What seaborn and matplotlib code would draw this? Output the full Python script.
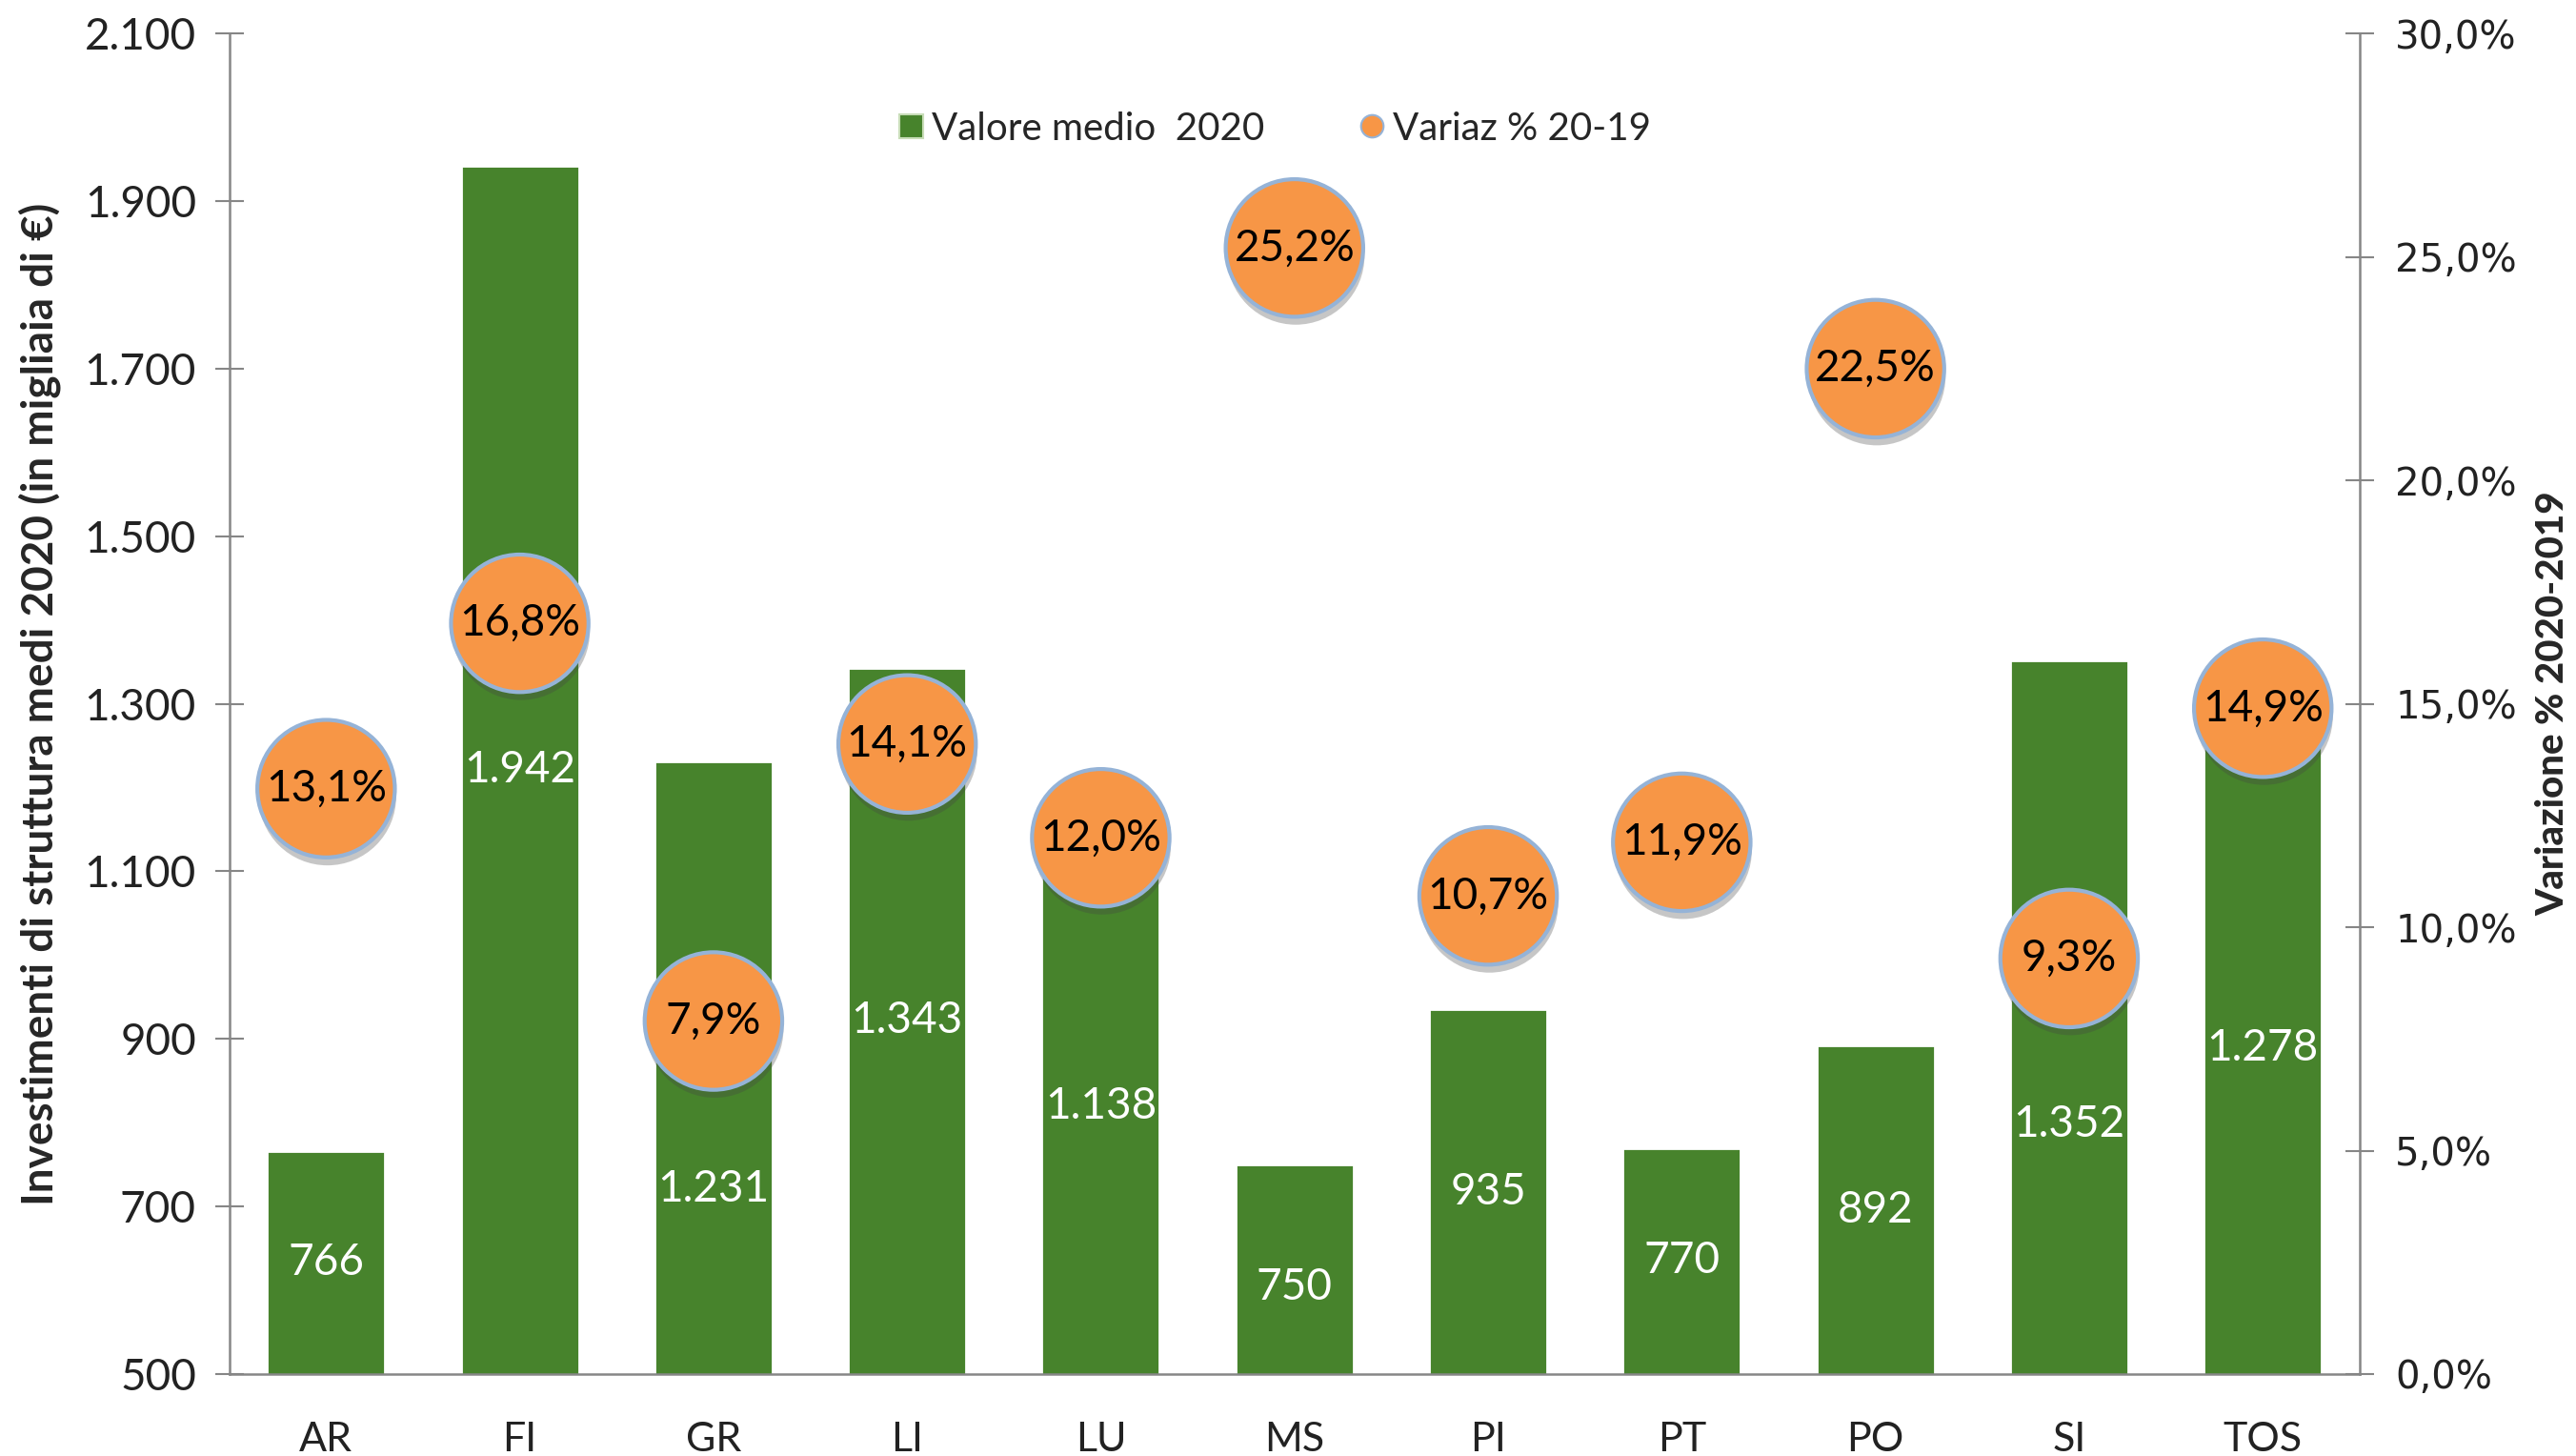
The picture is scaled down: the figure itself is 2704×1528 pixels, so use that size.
"""
Investimenti di struttura medi 2020 per provincia - barre + variazione %
"""

import matplotlib
matplotlib.use("Agg")
import matplotlib.pyplot as plt
import matplotlib.patheffects as pe
from matplotlib.ticker import FuncFormatter, FixedLocator, NullLocator
import seaborn as sns
import pandas as pd

# Data
province = ["AR", "FI", "GR", "LI", "LU", "MS", "PI", "PT", "PO", "SI", "TOS"]
valore_medio_2020 = [766, 1942, 1231, 1343, 1138, 750, 935, 770, 892, 1352, 1278]
variaz_20_19 = [13.1, 16.8, 7.9, 14.1, 12.0, 25.2, 10.7, 11.9, 22.5, 9.3, 14.9]

# labels moved down by hand where a circle sits on top of them (in data units)
label_shift = {"GR": -145, "SI": -128, "MS": -22}

GREEN = "#47832C"
ORANGE = "#F79646"
EDGE_BLUE = "#95B3D7"
AXIS_GREY = "#868686"

sns.set_theme(style="white")
plt.rcParams["font.family"] = ["Lato", "DejaVu Sans"]

df = pd.DataFrame({"prov": province, "valore": valore_medio_2020, "var": variaz_20_19})


def it_thousands(v, _pos=None):
    return f"{int(round(v)):,}".replace(",", ".")


def it_pct(v, _pos=None):
    return f"{v:.1f}%".replace(".", ",")


fig = plt.figure(figsize=(27.04, 15.28), dpi=100)
ax = fig.add_axes([0.089, 0.0563, 0.827, 0.9207])

sns.barplot(data=df, x="prov", y="valore", color=GREEN, saturation=1,
            width=0.61, edgecolor="white", linewidth=2, ax=ax)
ax.set_ylim(500, 2100)
ax.set_xlim(-0.5, len(province) - 0.5)

# value labels in bar centres
for patch, prov, val in zip(ax.patches, province, valore_medio_2020):
    cx = patch.get_x() + patch.get_width() / 2
    ax.text(cx, (500 + val) / 2 + label_shift.get(prov, 0), it_thousands(val),
            ha="center", va="center", color="white", fontsize=33, zorder=5)

ax2 = ax.twinx()
ax2.set_ylim(0, 30)
sns.scatterplot(data=df, x="prov", y="var", s=10800, color=ORANGE,
                edgecolor=EDGE_BLUE, linewidth=3, ax=ax2, zorder=4,
                legend=False)
for coll in ax2.collections:
    coll.set_path_effects([pe.SimplePatchShadow(offset=(1, -6), alpha=0.3,
                                                shadow_rgbFace="#444444"),
                           pe.Normal()])
for i, v in enumerate(variaz_20_19):
    ax2.text(i, v, it_pct(v), ha="center", va="center", color="black",
             fontsize=33, zorder=6)

# axes styling
for a in (ax, ax2):
    for s in a.spines.values():
        s.set_visible(False)
ax.spines["left"].set_visible(True)
ax.spines["bottom"].set_visible(True)
ax2.spines["right"].set_visible(True)
for s in (ax.spines["left"], ax.spines["bottom"], ax2.spines["right"]):
    s.set_color(AXIS_GREY)
    s.set_linewidth(1.8)

ax.set_yticks(range(500, 2101, 200))
ax.yaxis.set_major_formatter(FuncFormatter(it_thousands))
ax.tick_params(axis="y", direction="inout", length=22, width=1.5,
               color=AXIS_GREY, labelsize=33, pad=14, labelcolor="#222222",
               left=True)
ax2.set_yticks(range(0, 31, 5))
ax2.yaxis.set_major_formatter(FuncFormatter(it_pct))
ax2.tick_params(axis="y", direction="inout", length=22, width=1.5,
                color=AXIS_GREY, labelsize=29, pad=16, labelcolor="#222222",
                right=True)
for lbl in ax2.get_yticklabels():
    lbl.set_family(["DejaVu Sans"])

ax.xaxis.set_minor_locator(FixedLocator([i - 0.5 for i in range(len(province) + 1)]))
ax.tick_params(axis="x", which="major", length=0, labelsize=31, pad=36,
               labelcolor="#222222")
ax.tick_params(axis="x", which="minor", direction="inout", length=26,
               width=1.5, color=AXIS_GREY, bottom=True)
ax2.xaxis.set_minor_locator(NullLocator())

ax.set_xlabel("")
ax.set_ylabel("Investimenti di struttura medi 2020 (in migliaia di €)",
              fontsize=33, fontweight="bold", labelpad=18)
ax2.set_ylabel("Variazione % 2020-2019", labelpad=14)
ax2.yaxis.label.set_fontsize(29)
ax2.yaxis.label.set_fontweight("black")
ax2.yaxis.label.set_family(["Lato", "DejaVu Sans"])

# legend
handles = [
    plt.Line2D([], [], marker="s", linestyle="", markersize=18,
               markerfacecolor=GREEN, markeredgecolor="#C8DDB8",
               markeredgewidth=1.5, label="Valore medio  2020"),
    plt.Line2D([], [], marker="o", linestyle="", markersize=17,
               markerfacecolor=ORANGE, markeredgecolor=EDGE_BLUE,
               markeredgewidth=1.5, label="Variaz % 20-19"),
]
ax2.legend(handles=handles, loc="center", bbox_to_anchor=(0.49, 0.929),
           ncol=2, frameon=False, fontsize=29, handletextpad=0.15,
           columnspacing=2.4, handlelength=0.8)

fig.savefig("out.png", dpi=100)
